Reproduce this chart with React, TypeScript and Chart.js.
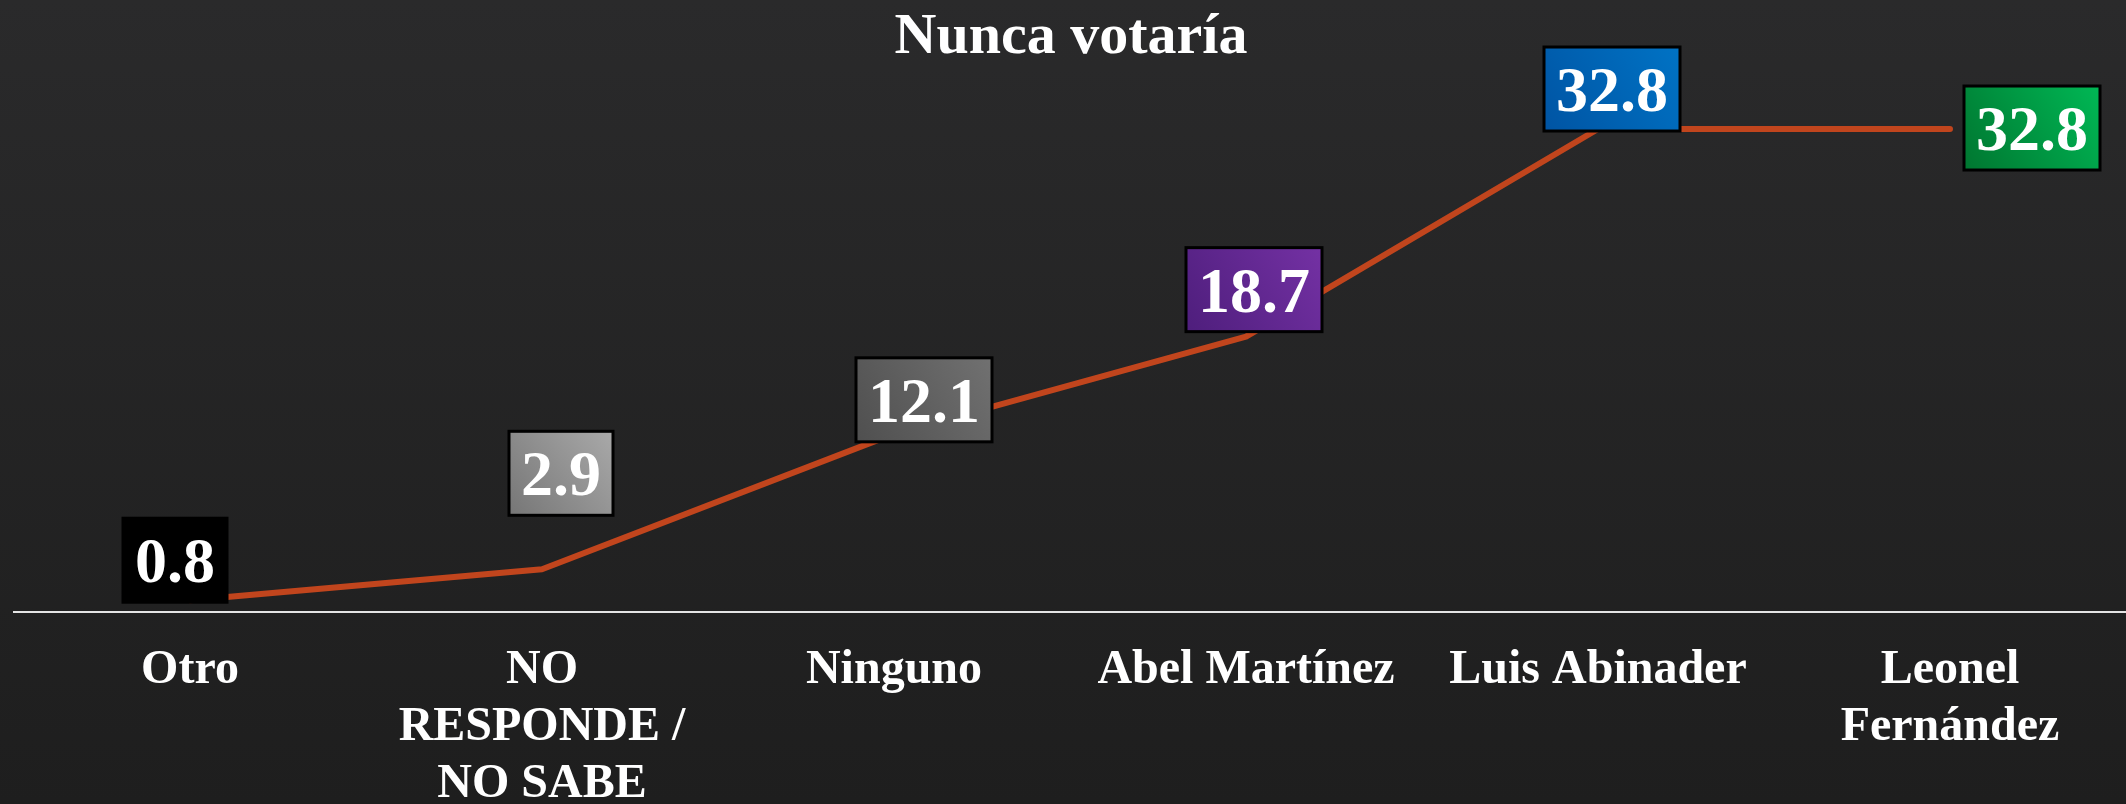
import React, { useEffect, useRef } from 'react';
import { Chart, registerables } from 'chart.js';

Chart.register(...registerables);

const TITLE = 'Nunca votaría';
const CATEGORIES: string[][] = [
  ['Otro'],
  ['NO', 'RESPONDE /', 'NO SABE'],
  ['Ninguno'],
  ['Abel Martínez'],
  ['Luis Abinader'],
  ['Leonel', 'Fernández'],
];
const VALUES: number[] = [0.8, 2.9, 12.1, 18.7, 32.8, 32.8];

// label box fills (gradient start -> end)
const LABEL_FILLS: string[][] = [
  ['#000000', '#000000'],
  ['#767676', '#a9a9a9'],
  ['#4f4f4f', '#717171'],
  ['#4e1e7c', '#7431a4'],
  ['#0054a3', '#0073c5'],
  ['#007630', '#00b855'],
];
// label box centre offsets from the point (px)
const LABEL_OFFSETS: number[][] = [
  [-15, -40],
  [19, -96],
  [30, -34],
  [8, -47],
  [14, -40],
  [82, -1],
];

const SERIF = '"Liberation Serif", "Times New Roman", "DejaVu Serif", serif';

const backgroundPlugin = {
  id: 'bgPlugin',
  beforeDraw(chart: any) {
    const { ctx, width, height } = chart;
    ctx.save();
    const g = ctx.createLinearGradient(0, 0, 0, height);
    g.addColorStop(0, '#2a2a2b');
    g.addColorStop(1, '#1e1e1e');
    ctx.fillStyle = g;
    ctx.fillRect(0, 0, width, height);
    ctx.restore();
  },
  afterDraw(chart: any) {
    const { ctx } = chart;
    ctx.save();
    ctx.font = `bold 58px ${SERIF}`;
    ctx.fillStyle = '#ffffff';
    ctx.textAlign = 'center';
    ctx.textBaseline = 'alphabetic';
    ctx.fillText(TITLE, 1071, 53);
    ctx.restore();
  },
};

const boxLabelPlugin = {
  id: 'boxLabels',
  afterDatasetsDraw(chart: any) {
    const ctx = chart.ctx;
    const meta = chart.getDatasetMeta(0);
    ctx.save();
    ctx.font = `bold 64px ${SERIF}`;
    meta.data.forEach((pt: any, i: number) => {
      const text = VALUES[i].toFixed(1);
      const w = ctx.measureText(text).width + 24;
      const h = 84;
      const cx = pt.x + LABEL_OFFSETS[i][0];
      const cy = pt.y + LABEL_OFFSETS[i][1];
      const x0 = cx - w / 2;
      const y0 = cy - h / 2;
      const g = ctx.createLinearGradient(x0, y0 + h, x0 + w, y0);
      g.addColorStop(0, LABEL_FILLS[i][0]);
      g.addColorStop(1, LABEL_FILLS[i][1]);
      ctx.fillStyle = g;
      ctx.fillRect(x0, y0, w, h);
      ctx.lineWidth = 3;
      ctx.strokeStyle = '#000000';
      ctx.strokeRect(x0, y0, w, h);
      ctx.fillStyle = '#ffffff';
      ctx.textAlign = 'center';
      ctx.textBaseline = 'alphabetic';
      ctx.fillText(text, cx, cy + 22);
    });
    ctx.restore();
  },
};

export default function App() {
  const ref = useRef<HTMLCanvasElement>(null);
  useEffect(() => {
    const chart = new Chart(ref.current as HTMLCanvasElement, {
      type: 'line',
      data: {
        labels: CATEGORIES,
        datasets: [
          {
            data: VALUES,
            borderColor: '#c1451d',
            borderWidth: 6,
            pointRadius: 0,
            tension: 0,
            borderCapStyle: 'round',
            borderJoinStyle: 'round',
          },
        ],
      },
      options: {
        responsive: false,
        animation: false,
        devicePixelRatio: 1,
        layout: { padding: { left: 14, right: 0, top: 23, bottom: 0 } },
        plugins: {
          legend: { display: false },
          tooltip: { enabled: false },
          title: { display: false },
        },
        scales: {
          x: {
            offset: true,
            grid: { display: false, drawTicks: false },
            border: { display: true, color: '#e4e4e4', width: 2 },
            ticks: {
              color: '#ffffff',
              font: { family: SERIF, size: 48, weight: 'bold', lineHeight: 1.19 },
              padding: 30,
              maxRotation: 0,
              autoSkip: false,
            },
            afterFit: (s: any) => {
              s.height = 192;
            },
          },
          y: { display: false, min: 0, max: 40 },
        },
      } as any,
      plugins: [backgroundPlugin, boxLabelPlugin],
    });
    return () => chart.destroy();
  }, []);
  return (
    <div style={{ position: 'absolute', left: 0, top: 0, width: 2126, height: 804, background: '#242424' }}>
      <canvas ref={ref} width={2126} height={804} style={{ display: 'block', width: 2126, height: 804 }} />
    </div>
  );
}
